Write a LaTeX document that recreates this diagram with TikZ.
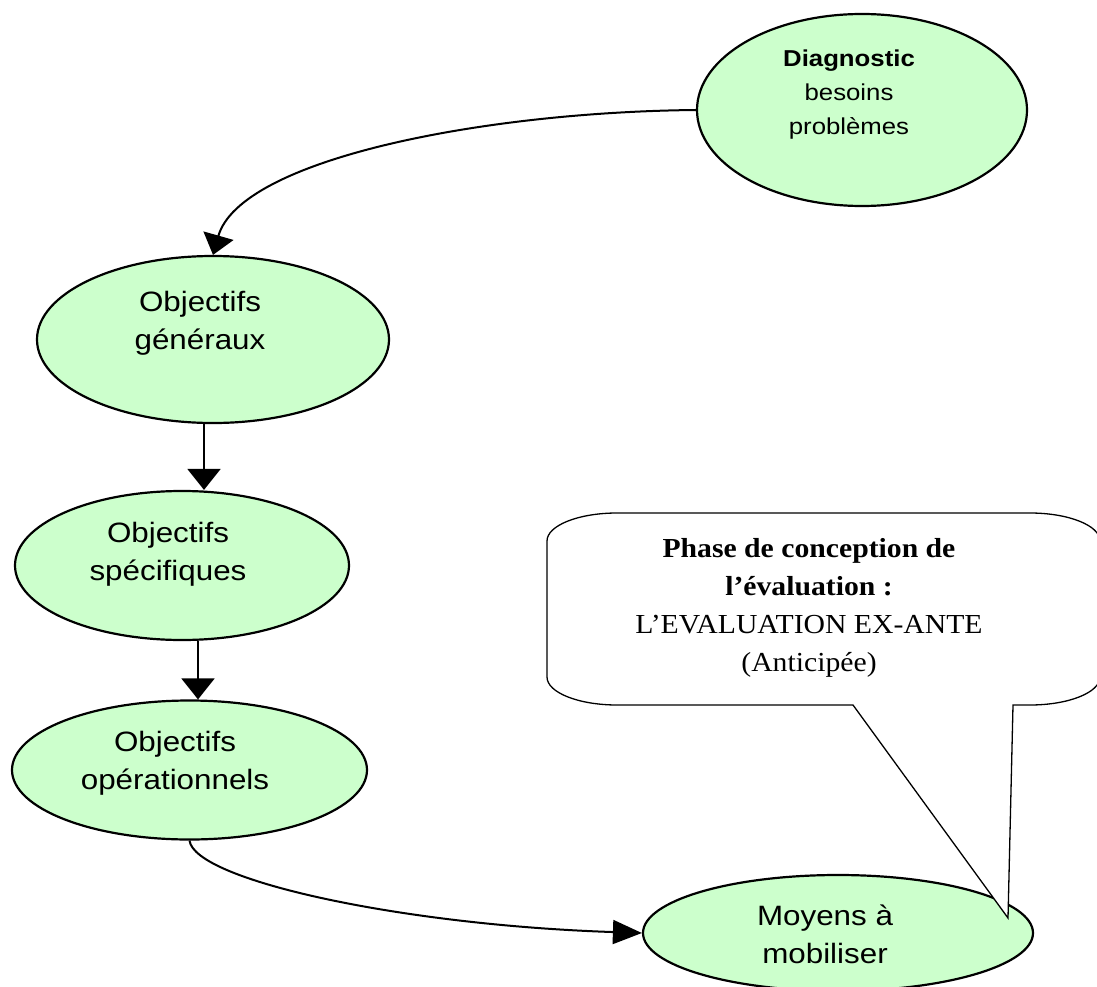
\documentclass[tikz,border=0pt]{standalone}
\usepackage{fontspec}
\usetikzlibrary{shapes.geometric,arrows.meta,calc}
% slightly widened faces, as in the printed chart
\newfontfamily\sansw[FakeStretch=1.12]{Liberation Sans}
\newfontfamily\serifw[FakeStretch=1.08]{Liberation Serif}
\definecolor{mint}{HTML}{CCFFCC}

\begin{document}
\begin{tikzpicture}[x=1pt,y=-1pt,
  bubble/.style={ellipse, draw=black, fill=mint, line width=2.2pt, inner sep=0pt},
  bubbletext/.style={align=center, inner sep=0pt, font=\sansw\fontsize{28pt}{38pt}\selectfont},
  link/.style={line width=2pt, draw=black},
  headv/.style={-{Triangle[length=21pt,width=33pt]}},
  headc/.style={-{Triangle[length=20pt,width=31pt]}},
  headh/.style={-{Triangle[length=29pt,width=24pt]}},
  balloon/.style={draw=black, fill=white, line width=1.3pt, line join=miter},
  balloontext/.style={align=center, inner sep=0pt, font=\serifw\fontsize{27.5pt}{38pt}\selectfont}
]
\useasboundingbox (0,0) rectangle (1097,987);
\fill[white] (0,0) rectangle (1097,987);
\clip (0,0) rectangle (1097,987);

% ellipses
\node[bubble, minimum width=330pt, minimum height=192pt] (diag) at (862,110) {};
\node[bubble, minimum width=352pt, minimum height=167pt] (gen)  at (213,339.5) {};
\node[bubble, minimum width=334pt, minimum height=149pt] (spec) at (182,565.5) {};
\node[bubble, minimum width=355pt, minimum height=139pt] (oper) at (189.5,770) {};
\node[bubble, minimum width=390pt, minimum height=116pt] (moy)  at (838,933) {};

% labels
\node[bubbletext, font=\sansw\fontsize{23pt}{34pt}\selectfont] (diagT) at (849,95)
  {\textbf{Diagnostic}\\besoins\\problèmes};
\node[bubbletext] (genT)  at (200,323) {Objectifs\\généraux};
\node[bubbletext] (specT) at (168,554) {Objectifs\\spécifiques};
\node[bubbletext] (operT) at (175,763) {Objectifs\\opérationnels};
\node[bubbletext] (moyT)  at (825,934) {Moyens à\\mobiliser};

% connectors
\draw[link, headc] (diag.west) .. controls (480,112) and (240,160) .. (gen.north);
\draw[link, headv] ([xshift=-9pt]gen.south) -- ([xshift=-9pt]gen.south |- spec.north);
\draw[link, headv] ([xshift=16pt]spec.south) -- ([xshift=16pt]spec.south |- oper.north);
\draw[link, headh] (oper.south) .. controls (195,880) and (400,925) .. (moy.west);

% speech balloon pointing at the last ellipse
\coordinate (tip) at (1008,918);
\path[balloon] (853,705) -- (tip) -- (1013,705) -- (1030,705)
  .. controls (1068.6,705) and (1100,692.5) .. (1100,677) -- (1100,541)
  .. controls (1100,525.5) and (1068.6,513) .. (1030,513) -- (617,513)
  .. controls (578.4,513) and (547,525.5) .. (547,541) -- (547,677)
  .. controls (547,692.5) and (578.4,705) .. (617,705) -- cycle;
\node[balloontext] (callT) at (809,608)
  {\textbf{Phase de conception de}\\\textbf{l’évaluation :}\\L’EVALUATION EX-ANTE\\(Anticipée)};
\end{tikzpicture}
\end{document}
